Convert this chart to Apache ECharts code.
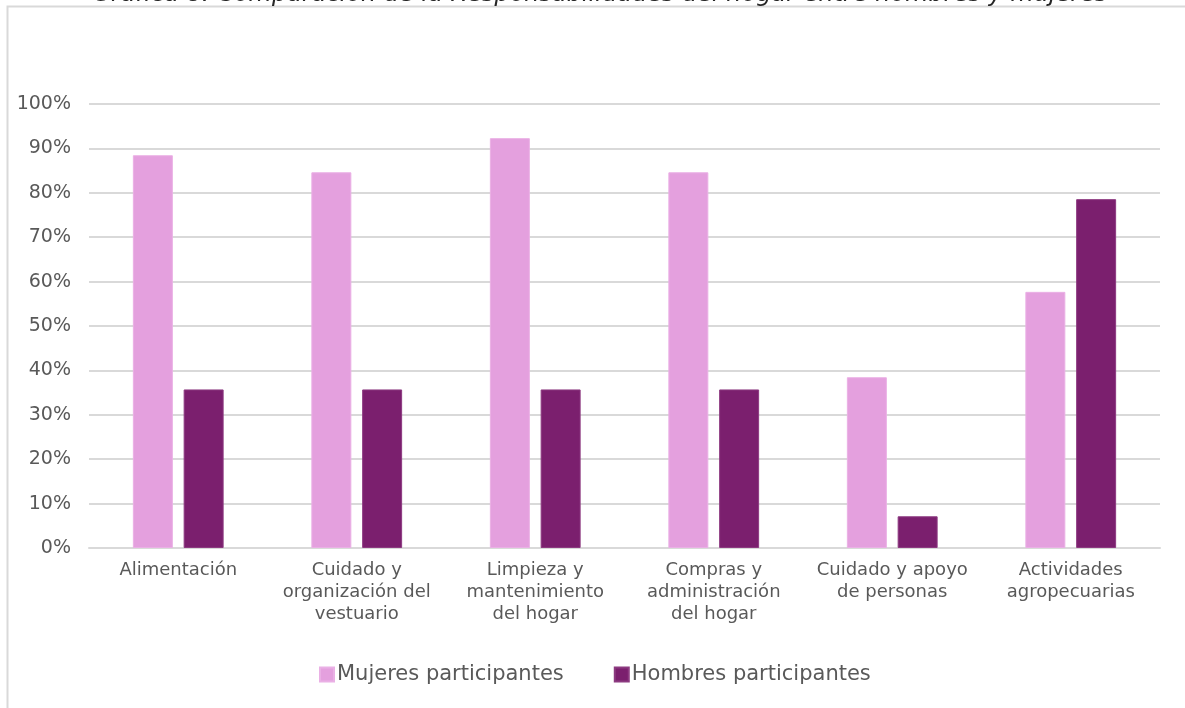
<!DOCTYPE html>
<html>
<head>
<meta charset="utf-8">
<script src="https://cdn.jsdelivr.net/npm/echarts@6/dist/echarts.min.js"></script>
<style>
  html, body { margin: 0; padding: 0; background: #fff; }
  #chart { width: 1185px; height: 708px; }
</style>
</head>
<body>
<div id="chart"></div>
<script>
const titleText = 'Gráfica 8. Comparación de la Responsabilidades del hogar entre hombres y mujeres';
const categories = [
  'Alimentación',
  'Cuidado y\norganización del\nvestuario',
  'Limpieza y\nmantenimiento\ndel hogar',
  'Compras y\nadministración\ndel hogar',
  'Cuidado y apoyo\nde personas',
  'Actividades\nagropecuarias'
];
const mujeres = [88.46, 84.62, 92.31, 84.62, 38.46, 57.69];
const hombres = [35.71, 35.71, 35.71, 35.71, 7.14, 78.57];

const chart = echarts.init(document.getElementById('chart'));
const textColor = '#595959';
const fontFamily = '"DejaVu Sans", sans-serif';

chart.setOption({
  backgroundColor: '#fff',
  animation: false,
  graphic: [
    {
      type: 'rect', silent: true,
      shape: { x: 7.5, y: 6.5, width: 1400, height: 900 },
      style: { fill: 'none', stroke: '#d9d9d9', lineWidth: 2 }
    },
    {
      type: 'text', silent: true,
      style: {
        x: 600, y: -17, text: titleText,
        font: 'italic 24px ' + fontFamily,
        fill: '#262626', align: 'center', verticalAlign: 'top'
      }
    }
  ],
  grid: { left: 89, right: 25, top: 104, bottom: 160 },
  legend: {
    bottom: 18, left: 314,
    itemWidth: 14, itemHeight: 14, itemGap: 50,
    icon: 'rect',
    textStyle: { color: textColor, fontSize: 21, fontFamily: fontFamily, padding: [0, 0, 0, -2] },
    data: ['Mujeres participantes', 'Hombres participantes']
  },
  xAxis: {
    type: 'category', data: categories,
    axisLine: { lineStyle: { color: '#d9d9d9', width: 2 } },
    axisTick: { show: false },
    axisLabel: {
      color: textColor, fontSize: 18, fontFamily: fontFamily,
      lineHeight: 22, margin: 11, interval: 0
    }
  },
  yAxis: {
    type: 'value', min: 0, max: 100, interval: 10,
    axisLabel: {
      formatter: '{value}%', color: textColor, fontSize: 19,
      fontFamily: fontFamily, margin: 18
    },
    splitLine: { lineStyle: { color: '#d9d9d9', width: 2 } },
    axisLine: { show: false },
    axisTick: { show: false }
  },
  series: [
    {
      name: 'Mujeres participantes', type: 'bar', data: mujeres,
      barWidth: '22.4%', barGap: '27%',
      itemStyle: { color: '#e4a0de', borderColor: '#eab0e5', borderWidth: 1 }
    },
    {
      name: 'Hombres participantes', type: 'bar', data: hombres,
      barWidth: '22.4%', barGap: '27%',
      itemStyle: { color: '#7b1f6e', borderColor: '#8c3a80', borderWidth: 1 }
    }
  ]
});
</script>
</body>
</html>
